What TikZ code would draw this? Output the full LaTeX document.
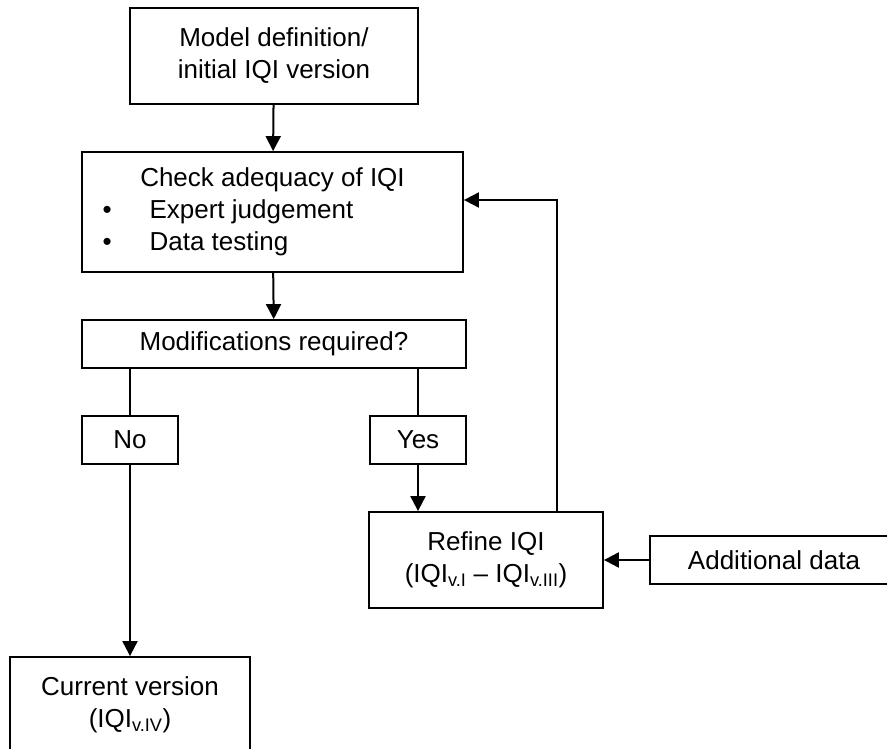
\documentclass[tikz,border=0pt]{standalone}
\usepackage{fontspec}
\setmainfont{Liberation Sans}
\usetikzlibrary{arrows.meta,positioning,calc}
\tikzset{
  flowbox/.style = {draw, line width=1.8pt, inner sep=0pt, align=center,
    font=\fontsize{26}{32}\selectfont},
  flowline/.style = {line width=2pt},
  flowarrow/.style = {flowline, -{Triangle[length=15pt,width=15pt]}},
}

\begin{document}
\begin{tikzpicture}[x=1pt, y=-1pt]

\clip (0,0) rectangle (887,749);
\useasboundingbox (0,0) rectangle (887,749);

% main column
\node[flowbox, minimum width=288pt, minimum height=96pt] (model) at (274,56)
  {Model definition/\\initial IQI version};
\node[flowbox, minimum width=381pt, minimum height=120pt] (check) at (272.5,212)
  {Check adequacy of IQI\\
   \makebox[340pt][l]{\textbullet\hspace{38pt}Expert judgement}\\
   \makebox[340pt][l]{\textbullet\hspace{38pt}Data testing}};
\node[flowbox, minimum width=384pt, minimum height=48pt] (mods) at (274,344)
  {Modifications required?};

% answers
\node[flowbox, minimum width=96pt, minimum height=48pt] (no) at (130,440) {No};
\node[flowbox, minimum width=96pt, minimum height=48pt] (yes) at (418,440) {Yes};

% refinement loop
\node[flowbox, minimum width=234pt, minimum height=96pt] (refine) at (486,560)
  {Refine IQI\\(IQI\textsubscript{v.I} -- IQI\textsubscript{v.III})};
\node[flowbox, minimum width=248pt, minimum height=48pt] (adddata) at (774,560)
  {Additional data};
\node[flowbox, minimum width=240pt, minimum height=96pt] (current) at (130,705)
  {Current version\\(IQI\textsubscript{v.IV})};

\coordinate (loop) at (557,200);

% connectors
\draw[flowarrow] (model) -- (check);
\draw[flowarrow] (check) -- (mods);
\draw[flowline] (mods.south -| no.north) -- (no.north);
\draw[flowline] (mods.south -| yes.north) -- (yes.north);
\draw[flowarrow] (no) -- (current);
\draw[flowarrow] (yes.south) -- (yes.south |- refine.north);
\draw[flowarrow] (refine.north -| loop) -- (loop) -- (check.east |- loop);
\draw[flowarrow] (adddata) -- (refine);

\end{tikzpicture}
\end{document}
